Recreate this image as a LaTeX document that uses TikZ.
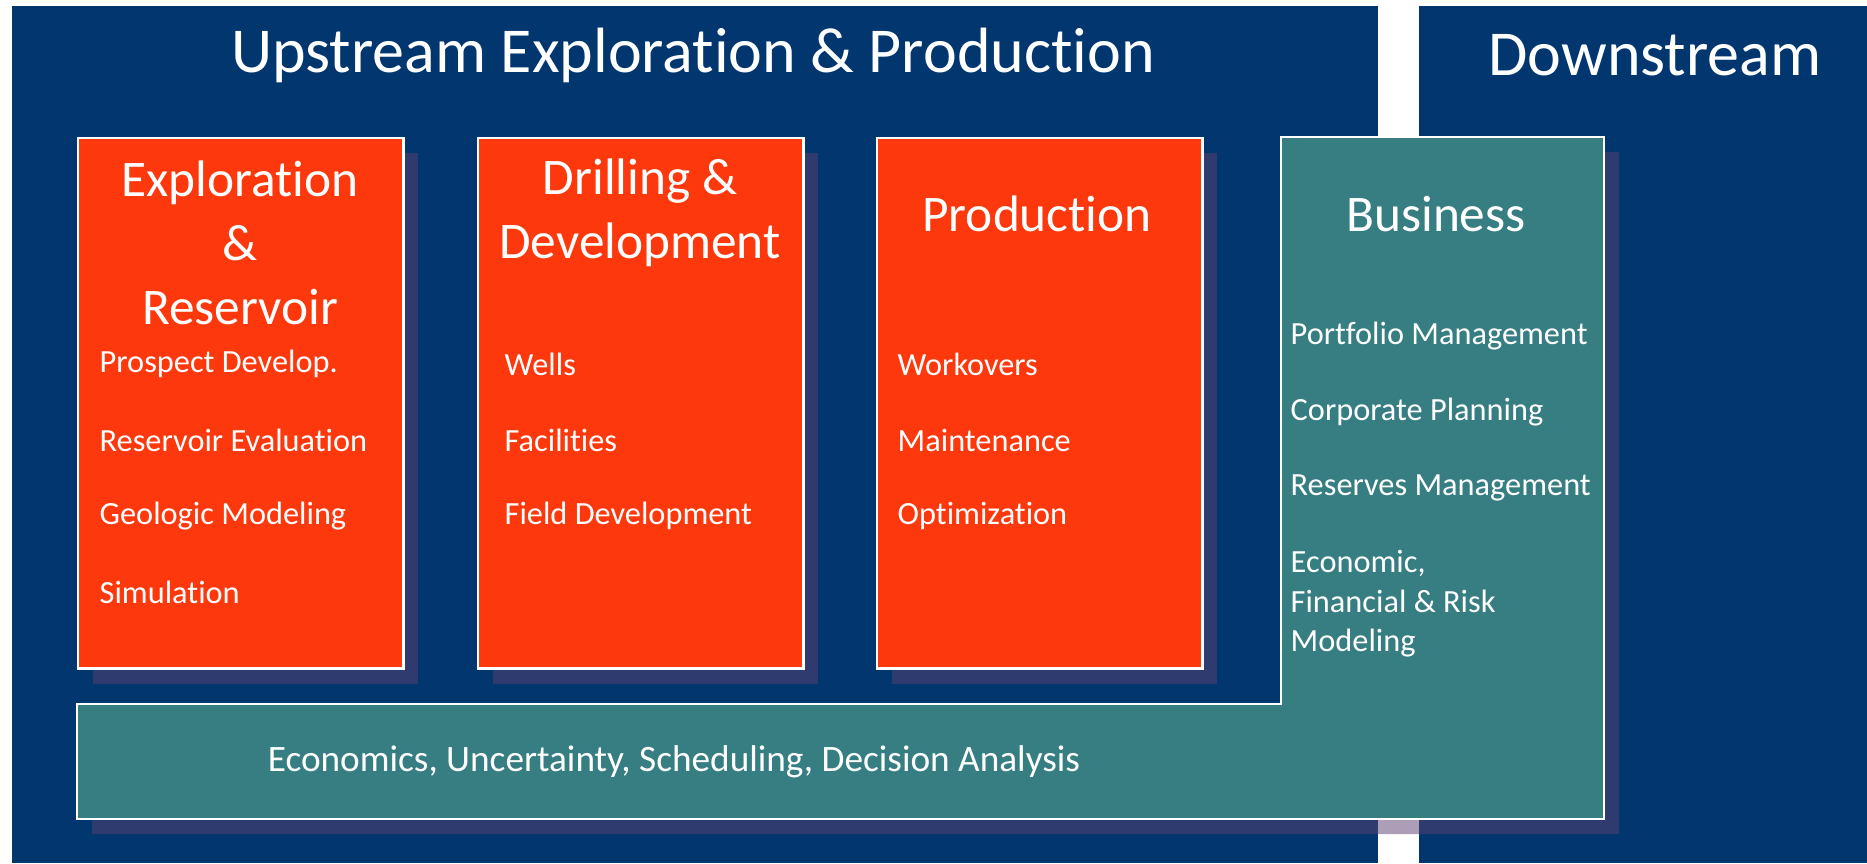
\documentclass[tikz,border=0pt]{standalone}
\usepackage{fontspec}
\setmainfont{Carlito}[Ligatures=NoCommon]
\usetikzlibrary{shadows}
\definecolor{navy}{RGB}{2,54,111}
\definecolor{flame}{RGB}{252,56,12}
\definecolor{bizteal}{RGB}{55,126,131}
\definecolor{shade}{RGB}{93,62,112}
\begin{document}
\begin{tikzpicture}[x=0.01cm, y=-0.01cm,
  boxshade/.style={drop shadow={shadow xshift=0.15cm, shadow yshift=-0.15cm, fill=shade, opacity=0.5}},
  stage/.style={boxshade, fill=flame, draw=white, line width=0.7pt, anchor=north west,
    minimum width=3.25cm, minimum height=5.3cm, inner sep=0pt},
  bizbox/.style={boxshade, fill=bizteal, draw=white, line width=0.7pt},
  bigtitle/.style={text=white, font=\fontsize{18.2}{22}\selectfont},
  head/.style={text=white, align=center, font=\fontsize{14.6}{18.2}\selectfont},
  item/.style={text=white, anchor=west, inner sep=0pt, font=\fontsize{9.2}{11.2}\selectfont},
]
\useasboundingbox (0,0) rectangle (1867,863);
\fill[white] (0,0) rectangle (1867,863);
% upstream and downstream panels
\fill[navy] (12,6) rectangle (1378,863);
\fill[navy] (1419,6) rectangle (1867,863);
\node[bigtitle] (upstream) at (693,55) {Upstream Exploration \& Production};
\node[bigtitle] (downstream) at (1655,55) {Downstream};

% business + economics band (one L shape)
\draw[bizbox] (77,704) -- (1281,704) -- (1281,137) -- (1604,137) -- (1604,819) -- (77,819) -- cycle;
\node[head] (business) at (1436,214) {Business};
\node[text=white, font=\fontsize{10.6}{12}\selectfont] (econ) at (674,762) {Economics, Uncertainty, Scheduling, Decision Analysis};

% the three stages
\node[stage] (explore) at (77,137) {};
\node[stage] (drill) at (477,137) {};
\node[stage] (produce) at (876,137) {};

\node[head] at (240,243) {Exploration\\\&\\Reservoir};
\node[head] at (640,213) {Drilling \&\\Development};
\node[head] at (1037,214) {Production};

\foreach \t [count=\i from 0] in {Prospect Develop., Reservoir Evaluation, Geologic Modeling, Simulation}
  \node[item] at (99,{364+76*\i}) {\t};
\foreach \t [count=\i from 0] in {Wells, Facilities, Field Development}
  \node[item] at (504,{364+76*\i}) {\t};
\foreach \t [count=\i from 0] in {Workovers, Maintenance, Optimization}
  \node[item] at (897,{364+76*\i}) {\t};
\foreach \t [count=\i from 0] in {Portfolio Management, Corporate Planning, Reserves Management}
  \node[item] at (1290,{336+76*\i}) {\t};
\node[item, align=left] at (1290,604) {Economic,\\Financial \& Risk\\Modeling};
\end{tikzpicture}
\end{document}
